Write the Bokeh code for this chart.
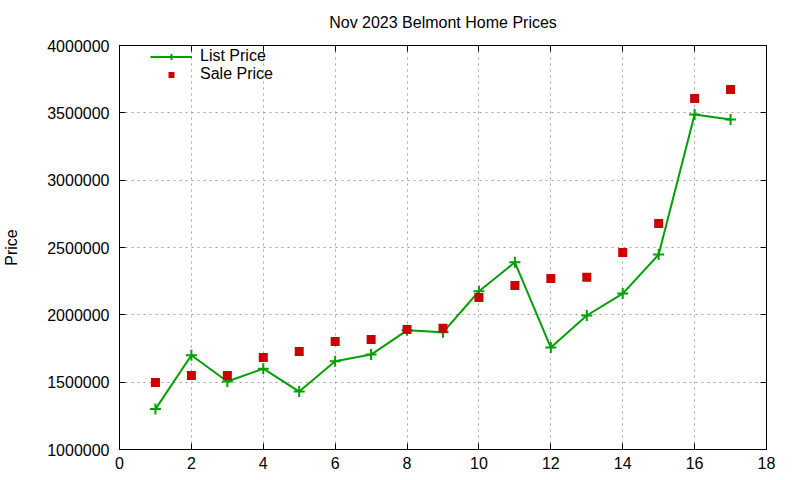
from bokeh.plotting import figure
from bokeh.models import (Range1d, LinearAxis, Legend, LegendItem, FixedTicker,
                          BasicTickFormatter, CustomLabelingPolicy)
from bokeh.embed import file_html
from bokeh.resources import INLINE

# data
house = list(range(1, 18))
list_price = [1300000, 1700000, 1505000, 1600000, 1430000, 1655000, 1705000, 1885000, 1870000,
              2175000, 2390000, 1757000, 1995000, 2158000, 2448000, 3488000, 3450000]
sale_price = [1497000, 1549000, 1550000, 1683000, 1728000, 1802000, 1817000, 1891000, 1900000,
              2129000, 2218000, 2270000, 2280000, 2463000, 2678000, 3606000, 3673000]
x_ticks = [0, 2, 4, 6, 8, 10, 12, 14, 16, 18]
y_ticks = [1000000, 1500000, 2000000, 2500000, 3000000, 3500000, 4000000]

FONT = "Liberation Sans"
GREEN = "#00a000"
RED = "#cc0000"

p = figure(frame_width=647, frame_height=404,
           x_range=Range1d(0, 18), y_range=Range1d(1000000, 4000000),
           title="Nov 2023 Belmont Home Prices",
           output_backend="svg", toolbar_location=None)
p.min_border_left = 111
p.min_border_right = 26
p.min_border_top = 45
p.min_border_bottom = 23
p.outline_line_color = "black"
p.outline_line_width = 1

p.title.align = "center"
p.title.vertical_align = "top"
p.title.text_font = FONT
p.title.text_font_size = "16px"
p.title.text_font_style = "normal"
p.title.text_color = "black"
p.title.standoff = 25

# mirror axes on top and right, ticks only (no labels drawn)
no_labels = CustomLabelingPolicy(code="""
const all = [...indices]
for (const i of all) indices.unset(i)
return indices
""")
for side in ("above", "right"):
    p.add_layout(LinearAxis(major_label_policy=no_labels,
                            major_label_text_font_size="0px",
                            major_label_standoff=0), side)

for ax in p.xaxis:
    ax.ticker = FixedTicker(ticks=x_ticks)
for ax in p.yaxis:
    ax.ticker = FixedTicker(ticks=y_ticks)
    ax.formatter = BasicTickFormatter(use_scientific=False)

for ax in p.axis:
    ax.axis_line_color = "black"
    ax.major_tick_in = 6
    ax.major_tick_out = 0
    ax.major_tick_line_color = "black"
    ax.minor_tick_line_color = None
    ax.major_label_text_font = FONT
    ax.major_label_text_color = "black"

for ax in (p.below[0], p.left[0]):
    ax.major_label_text_font_size = "16px"

p.below[0].major_label_standoff = 7
p.left[0].major_label_standoff = 10
p.left[0].axis_label = "Price"
p.left[0].axis_label_text_font = FONT
p.left[0].axis_label_text_font_size = "16px"
p.left[0].axis_label_text_font_style = "normal"
p.left[0].axis_label_text_color = "black"
p.left[0].axis_label_standoff = 24

p.xgrid.ticker = FixedTicker(ticks=x_ticks)
p.ygrid.ticker = FixedTicker(ticks=y_ticks)
p.grid.grid_line_color = "#a0a0a0"
p.grid.grid_line_dash = "2 4"
p.grid.grid_line_width = 1

ln = p.line(house, list_price, color=GREEN, line_width=2)
cr = p.scatter(house, list_price, marker="cross", size=11, line_color=GREEN, line_width=2)
sq = p.scatter(house, sale_price, marker="square", size=9, fill_color=RED, line_color=None)

legend = Legend(items=[LegendItem(label="List Price", renderers=[ln, cr]),
                       LegendItem(label="Sale Price", renderers=[sq])],
                location=(31, 366))
legend.margin = 0
legend.padding = 0
legend.background_fill_alpha = 0
legend.border_line_color = None
legend.label_text_font = FONT
legend.label_text_font_size = "16px"
legend.label_text_color = "black"
legend.label_height = 15
legend.glyph_height = 15
legend.glyph_width = 42
legend.spacing = 0
legend.label_standoff = 8
p.add_layout(legend)

open("out.html", "w").write(file_html(p, INLINE))
